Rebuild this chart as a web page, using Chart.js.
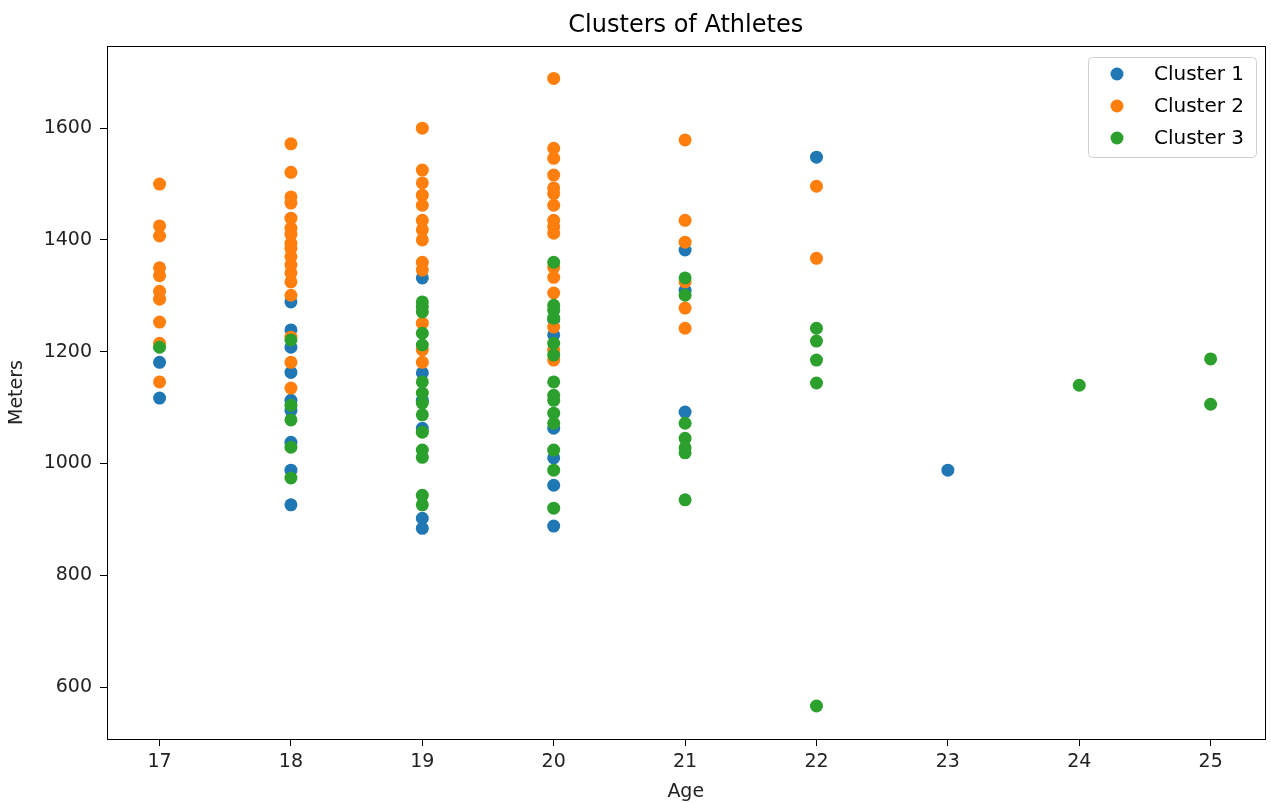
<!DOCTYPE html>
<html><head><meta charset="utf-8">
<script src="https://cdn.jsdelivr.net/npm/chart.js@4/dist/chart.umd.min.js"></script>
<style>html,body{margin:0;padding:0;background:#fff}canvas{display:block}</style>
</head><body>
<canvas id="c" width="1271" height="803"></canvas>
<script>
const chartTitle = "Clusters of Athletes";
const xTitle = "Age";
const yTitle = "Meters";
const seriesNames = ["Cluster 1", "Cluster 2", "Cluster 3"];
const seriesColors = ["#1f77b4", "#ff7f0e", "#2ca02c"];
const xTicks = [17, 18, 19, 20, 21, 22, 23, 24, 25];
const yTicks = [600, 800, 1000, 1200, 1400, 1600];

// Cluster 1
const c1Ages =   [17,17, 18,18,18,18,18,18,18,18,18, 19,19,19,19,19,19, 20,20,20,20,20,20, 21,21,21, 22, 23];
const c1Meters = [1181,1117, 1289,1239,1208,1163,1113,1095,1038,988,926, 1332,1162,1113,1063,902,884, 1257,1230,1063,1010,961,888, 1382,1310,1092, 1548, 988];
// Cluster 2
const c2Ages =   [17,17,17,17,17,17,17,17,17,17,
  18,18,18,18,18,18,18,18,18,18,18,18,18,18,18,18,18,
  19,19,19,19,19,19,19,19,19,19,19,19,19,
  20,20,20,20,20,20,20,20,20,20,20,20,20,20,20,20,
  21,21,21,21,21,21, 22,22];
const c2Meters = [1500,1425,1407,1350,1336,1308,1294,1253,1215,1146,
  1572,1521,1477,1466,1439,1421,1410,1394,1385,1370,1355,1341,1325,1301,1226,1181,1135,
  1600,1525,1502,1480,1462,1435,1418,1400,1360,1346,1251,1203,1181,
  1689,1564,1546,1516,1493,1483,1462,1435,1423,1412,1351,1333,1305,1244,1203,1185,
  1579,1435,1396,1325,1278,1242, 1496,1367];
// Cluster 3
const c3Ages =   [17, 18,18,18,18,18,
  19,19,19,19,19,19,19,19,19,19,19,19,19,19,
  20,20,20,20,20,20,20,20,20,20,20,20,20,20,
  21,21,21,21,21,21,21, 22,22,22,22,22, 24, 25,25];
const c3Meters = [1208, 1221,1104,1078,1029,974,
  1289,1280,1271,1233,1212,1146,1126,1108,1087,1056,1024,1011,943,926,
  1360,1283,1274,1260,1215,1194,1146,1122,1113,1090,1072,1024,988,920,
  1332,1301,1072,1045,1028,1019,935, 1242,1219,1185,1144,566, 1140, 1187,1106];

const allAges = [c1Ages, c2Ages, c3Ages];
const allMeters = [c1Meters, c2Meters, c3Meters];

const datasets = seriesNames.map((name, i) => ({
  label: name,
  data: allAges[i].map((a, j) => ({x: a, y: allMeters[i][j]})),
  backgroundColor: seriesColors[i],
  borderColor: seriesColors[i],
  borderWidth: 0,
  pointRadius: 6.5,
  pointHoverRadius: 6.5,
  order: 2 - i
}));

const FONT = "'DejaVu Sans', sans-serif";

const framePlugin = {
  id: 'frame',
  afterDraw(chart) {
    const {ctx, chartArea: a} = chart;
    ctx.save();
    ctx.strokeStyle = '#000';
    ctx.lineWidth = 1;
    ctx.strokeRect(Math.round(a.left) + 0.5, Math.round(a.top) + 0.5, Math.round(a.right - a.left), Math.round(a.bottom - a.top));
    // title
    ctx.fillStyle = '#000';
    ctx.font = "24px " + FONT;
    ctx.textAlign = 'center';
    ctx.textBaseline = 'middle';
    ctx.fillText(chartTitle, (a.left + a.right) / 2, 26);
    // legend
    const lx = 1088, ly = 57, lw = 168, lh = 100;
    ctx.fillStyle = 'rgba(255,255,255,0.8)';
    ctx.strokeStyle = '#d0d0d0';
    ctx.beginPath();
    ctx.roundRect(lx + 0.5, ly + 0.5, lw, lh, 4);
    ctx.fill();
    ctx.stroke();
    ctx.font = "20px " + FONT;
    ctx.textAlign = 'left';
    seriesNames.forEach((n, i) => {
      const y = 74 + i * 32;
      ctx.fillStyle = seriesColors[i];
      ctx.beginPath();
      ctx.arc(1117, y, 6.5, 0, Math.PI * 2);
      ctx.fill();
      ctx.fillStyle = '#000';
      ctx.fillText(n, 1154, y + 1);
    });
    ctx.restore();
  }
};

new Chart(document.getElementById('c'), {
  type: 'scatter',
  data: {datasets},
  options: {
    responsive: false,
    animation: false,
    devicePixelRatio: 1,
    layout: {padding: {top: 46, right: 4, bottom: 0, left: 0}},
    plugins: {legend: {display: false}, title: {display: false}, tooltip: {enabled: false}},
    scales: {
      x: {
        type: 'linear', min: 16.6, max: 25.41,
        afterBuildTicks: s => { s.ticks = xTicks.map(v => ({value: v})); },
        afterFit: s => { s.height = 64; },
        grid: {display: true, drawOnChartArea: false, drawTicks: true, tickLength: 7, color: '#000'},
        border: {display: true, color: '#000'},
        ticks: {color: '#222', font: {family: FONT, size: 19}, padding: 5, callback: v => String(v)},
        title: {display: true, text: xTitle, color: '#222', font: {family: FONT, size: 19}, padding: {top: 0, bottom: 0}}
      },
      y: {
        type: 'linear', min: 507, max: 1747,
        afterBuildTicks: s => { s.ticks = yTicks.map(v => ({value: v})); },
        afterFit: s => { s.width = 107; },
        grid: {display: true, drawOnChartArea: false, drawTicks: true, tickLength: 7, color: '#000'},
        border: {display: true, color: '#000'},
        ticks: {color: '#222', font: {family: FONT, size: 19}, padding: 8, callback: v => String(v)},
        title: {display: true, text: yTitle, color: '#222', font: {family: FONT, size: 19}, padding: {top: 6, bottom: 0}}
      }
    }
  },
  plugins: [framePlugin]
});
</script>
</body></html>
